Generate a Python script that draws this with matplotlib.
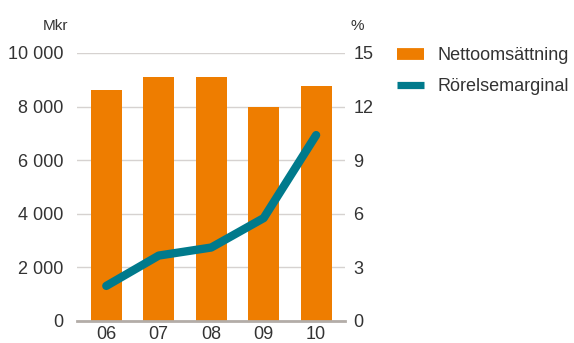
import matplotlib.pyplot as plt
from matplotlib.lines import Line2D

years = ["06", "07", "08", "09", "10"]
nettoomsattning = [8630, 9120, 9120, 7990, 8750]
rorelsemarginal = [1.95, 3.65, 4.1, 5.75, 10.4]

orange = "#EE7D00"
teal = "#007A8C"
grid_c = "#d6d2d0"
text_c = "#333333"

plt.rcParams["font.family"] = ["Liberation Sans", "DejaVu Sans"]

fig = plt.figure(figsize=(5.74, 3.43), dpi=100)
ax = fig.add_axes([0.134, 0.065, 0.467, 0.7805])
ax2 = ax.twinx()

x = list(range(len(years)))
ax.bar(x, nettoomsattning, width=0.59, color=orange, zorder=2)
ax.set_ylim(0, 10000)
ax.set_xlim(-0.56, 4.55)
ax.set_yticks(range(0, 10001, 2000))
ax.set_yticklabels([f"{v:,}".replace(",", " ") for v in range(0, 10001, 2000)])
ax.yaxis.grid(True, color=grid_c, linewidth=1.0, zorder=0)
ax.set_axisbelow(True)

ax2.plot(x, rorelsemarginal, color=teal, linewidth=6, solid_capstyle="round",
         solid_joinstyle="round", zorder=3)
ax2.set_ylim(0, 15)
ax2.set_yticks(range(0, 16, 3))

for a in (ax, ax2):
    for s in a.spines.values():
        s.set_visible(False)
    a.tick_params(length=0, labelsize=13, colors=text_c)
ax.tick_params(axis="y", pad=10)
ax2.tick_params(axis="y", pad=6)
ax.tick_params(axis="x", pad=4)
ax.set_xticks(x)
ax.set_xticklabels(years)

ax.spines["bottom"].set_visible(True)
ax.spines["bottom"].set_color("#b3ada8")
ax.spines["bottom"].set_linewidth(2)
ax.spines["bottom"].set_zorder(4)

fig.text(0.096, 0.925, "Mkr", fontsize=11, color=text_c, ha="center", va="center")
fig.text(0.623, 0.925, "%", fontsize=11, color=text_c, ha="center", va="center")

handles = [
    Line2D([0], [0], color=orange, linewidth=8.5, solid_capstyle="butt"),
    Line2D([0], [0], color=teal, linewidth=5.2, solid_capstyle="butt"),
]
fig.legend(handles, ["Nettoomsättning", "Rörelsemarginal"], loc="upper left",
           bbox_to_anchor=(0.692, 0.863), frameon=False, fontsize=13,
           handlelength=1.5, handletextpad=0.75, labelspacing=0.78,
           labelcolor=text_c, borderaxespad=0, borderpad=0)

fig.savefig("out.png", dpi=100)
